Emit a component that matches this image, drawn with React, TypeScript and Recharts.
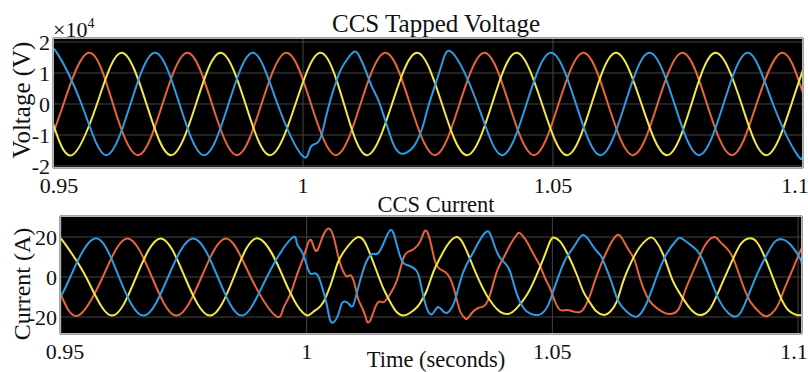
import React from 'react';
import { LineChart, Line, XAxis, YAxis, CartesianGrid } from 'recharts';

// ---------- data (time s, value) ----------
const voltageBlue: [number, number][] = [
  [0.95, 16000], [0.9508, 16500], [0.9557, 0], [0.9606, -16500], [0.9655, 0], [0.9704, 16500],
  [0.9753, 0], [0.9802, -16500], [0.9851, 0], [0.99, 16500], [0.9949, 0], [0.9998, -16600],
  [1.0014, -14300], [1.0027, -12700], [1.0037, -10000], [1.0047, -3500], [1.0057, 2500],
  [1.0067, 7500], [1.0077, 11500], [1.0091, 15000], [1.0104, 16900], [1.0114, 15000],
  [1.0126, 10500], [1.0138, 5500], [1.015, 1500], [1.0162, -4000], [1.0174, -10000],
  [1.0184, -14000], [1.0196, -16000], [1.0208, -15600], [1.022, -14000], [1.0232, -10500],
  [1.0242, -6000], [1.0252, 0], [1.0276, 12000], [1.0299, 16500], [1.0349, 0], [1.0398, -16500],
  [1.0447, 0], [1.0496, 16500], [1.0546, 0], [1.0595, -16500], [1.0644, 0], [1.0693, 16500],
  [1.0743, 0], [1.0792, -16500], [1.0841, 0], [1.089, 16500], [1.094, 0], [1.0989, -16500],
  [1.1, -15800],
];
const voltageRed: [number, number][] = [
  [0.95, -9500], [0.9521, 0], [0.9571, 16500], [0.962, 0], [0.967, -16500], [0.9719, 0],
  [0.9769, 16500], [0.9818, 0], [0.9868, -16500], [0.9917, 0], [0.9967, 16500], [1.0016, 0],
  [1.0066, -16500], [1.0115, 0], [1.0165, 16500], [1.0214, 0], [1.0264, -16500], [1.0313, 0],
  [1.0363, 16500], [1.0412, 0], [1.0462, -16500], [1.0511, 0], [1.0561, 16500], [1.061, 0],
  [1.066, -16500], [1.0709, 0], [1.0759, 16500], [1.0808, 0], [1.0858, -16500], [1.0907, 0],
  [1.0957, 16500], [1.1, 3500],
];
const voltageYellow: [number, number][] = [
  [0.95, -6300], [0.9538, -16500], [0.9588, 0], [0.9637, 16500], [0.9687, 0], [0.9736, -16500],
  [0.9786, 0], [0.9835, 16500], [0.9885, 0], [0.9934, -16500], [0.9985, 0], [1.0035, 16500],
  [1.0082, 0], [1.0128, -16500], [1.0178, 0], [1.0228, 16500], [1.0278, 0], [1.0328, -16500],
  [1.0378, 0], [1.0427, 16500], [1.0478, 0], [1.0528, -16500], [1.0577, 0], [1.0626, 16500],
  [1.0677, 0], [1.0728, -16500], [1.0777, 0], [1.0825, 16500], [1.0877, 0], [1.0928, -16500],
  [1.0977, 0], [1.1, 11000],
];

const currentBlue: [number, number][] = [
  [0.95, -9.5], [0.9519, 0], [0.9569, 19.3], [0.9618, 0], [0.9668, -19.3], [0.9718, 0],
  [0.9769, 19.3], [0.9819, 0], [0.9868, -19.3], [0.9919, 0], [0.9969, 19.3], [0.998, 16.8],
  [0.999, 12.7], [1.0, 6], [1.0007, 1.8], [1.0015, 1.8], [1.0024, 0.2], [1.0034, -7.3],
  [1.0041, -14], [1.0047, -21], [1.0054, -22.7], [1.0064, -19], [1.0071, -13.5], [1.0078, -12.3],
  [1.0086, -13.5], [1.0094, -14.5], [1.0102, -8], [1.0112, 1], [1.0122, 8], [1.0133, 11.5],
  [1.0143, 11.5], [1.0155, 16], [1.0171, 23.5], [1.0183, 16.5], [1.0194, 8], [1.0204, 6],
  [1.0214, 5], [1.0224, 3], [1.0231, -2.3], [1.0241, -13], [1.0251, -18.5], [1.0259, -17.5],
  [1.0267, -15], [1.0275, -16.5], [1.0285, -18], [1.0296, -15], [1.0305, -9], [1.0319, 2.7],
  [1.0336, 11], [1.0349, 17], [1.0366, 22.7], [1.0377, 19.3], [1.039, 11], [1.0404, 6.8],
  [1.0414, 2.7], [1.0424, -5.7], [1.0434, -12.3], [1.0448, -17.3], [1.0465, -19], [1.0477, -18.5],
  [1.0487, -16], [1.0495, -12], [1.0505, -4.8], [1.0516, 2.7], [1.0524, 7.5], [1.0532, 11],
  [1.0546, 16], [1.0562, 21], [1.0577, 17.5], [1.059, 13], [1.0599, 10.5], [1.0607, 6],
  [1.0621, -3], [1.0634, -12], [1.0651, -17.3], [1.0672, -19.8], [1.0692, -13], [1.0712, 0],
  [1.0733, 11.8], [1.0753, 18.5], [1.0763, 19.3], [1.078, 16.3], [1.0794, 13.3], [1.0807, 8],
  [1.0824, -2.5], [1.0841, -12.3], [1.0858, -18], [1.0872, -19.8], [1.0885, -17], [1.0902, -7.3],
  [1.0919, 2.7], [1.0936, 11], [1.0953, 17.7], [1.097, 18.7], [1.0987, 15.5], [1.1004, 9.3],
  [1.1008, 6],
];
const currentRed: [number, number][] = [
  [0.95, -9], [0.9535, -19.3], [0.9585, 0], [0.9635, 19.3], [0.9685, 0], [0.9735, -19.3],
  [0.9786, 0], [0.9836, 19.3], [0.9886, 0], [0.9936, -19.3], [0.9952, -16], [0.9966, -9],
  [0.998, 1], [0.9993, 9.5], [1.0003, 17], [1.001, 18], [1.0017, 13.5], [1.0024, 14.5],
  [1.0033, 20.5], [1.0045, 24.3], [1.0056, 19], [1.0066, 8.5], [1.0075, 2.5], [1.0082, 0.3],
  [1.009, 0.8], [1.0098, -4], [1.0105, -11], [1.0113, -15.5], [1.012, -20], [1.0124, -22.7],
  [1.013, -21.5], [1.0136, -17.5], [1.0146, -12.5], [1.0157, -12.5], [1.017, -8.5], [1.0184, -1.5],
  [1.0197, 9.5], [1.0207, 12.7], [1.0218, 14], [1.0231, 17.7], [1.0241, 23.2], [1.0251, 18.5],
  [1.0261, 8], [1.0271, 4], [1.0282, 2.5], [1.0292, -0.7], [1.0302, -8], [1.0312, -17],
  [1.032, -20], [1.0326, -21], [1.0336, -18], [1.0349, -15.5], [1.0361, -14.5], [1.0373, -9],
  [1.0387, 2.7], [1.04, 9.3], [1.0414, 16], [1.0427, 21], [1.0435, 21.8], [1.0448, 17.7],
  [1.0455, 14.5], [1.0465, 10], [1.0475, 5.5], [1.0485, -0.5], [1.0495, -5.5], [1.0505, -12],
  [1.0516, -16.5], [1.0529, -16.5], [1.0543, -17.3], [1.0556, -17.5], [1.0566, -15], [1.0577, -9],
  [1.0585, -3], [1.0597, 5], [1.0613, 14], [1.0632, 21], [1.0646, 17.5], [1.0658, 12.5],
  [1.0668, 8], [1.0678, -0.5], [1.0692, -9.5], [1.0705, -14], [1.0723, -17.3], [1.0739, -18.5],
  [1.0754, -17], [1.0763, -12.3], [1.0773, -5], [1.0794, 7], [1.0811, 16], [1.0829, 20],
  [1.0841, 17.7], [1.0855, 14.3], [1.0868, 9.3], [1.0884, -1.5], [1.0902, -12], [1.0923, -18],
  [1.0938, -19.5], [1.0957, -15], [1.097, -7.3], [1.0987, 2.7], [1.1004, 12.7], [1.1008, 14.3],
];
const currentYellow: [number, number][] = [
  [0.95, 19.3], [0.9551, 0], [0.9603, -19.3], [0.9653, 0], [0.9703, 19.3], [0.9752, 0],
  [0.9803, -19.3], [0.9852, 0], [0.9902, 19.3], [0.9952, 0], [0.9966, -7.5], [0.998, -14],
  [0.9993, -18], [1.0003, -19.2], [1.0013, -17.5], [1.0024, -15.5], [1.0034, -12.5], [1.0044, -7],
  [1.0054, 0], [1.0064, 7.5], [1.0078, 13.5], [1.0092, 17.7], [1.0105, 20], [1.0117, 18],
  [1.0129, 11.5], [1.0143, 2.5], [1.0156, -5.7], [1.017, -12.5], [1.0183, -17.5], [1.0197, -19.2],
  [1.021, -18], [1.0223, -15.5], [1.0231, -13], [1.0244, -7], [1.0258, 2.7], [1.0271, 9.3],
  [1.0285, 15.5], [1.0302, 19.8], [1.0316, 17.7], [1.0332, 9.3], [1.0349, -0.7], [1.0366, -9],
  [1.038, -14], [1.0393, -17.3], [1.041, -18.5], [1.0427, -15.7], [1.0448, -9], [1.0465, -0.7],
  [1.0482, 9.3], [1.0495, 17.7], [1.0503, 19.8], [1.0516, 17.7], [1.0532, 11], [1.055, 1],
  [1.0563, -7.3], [1.0577, -13], [1.059, -17.3], [1.0605, -19], [1.0617, -17.5], [1.0631, -12.3],
  [1.0644, -2.3], [1.0661, 7.7], [1.0678, 15], [1.0697, 19.5], [1.0709, 18.5], [1.0726, 11],
  [1.0743, -0.7], [1.076, -8.5], [1.078, -15.7], [1.08, -19], [1.0821, -15.8], [1.0841, -5.7],
  [1.0862, 6], [1.0882, 16], [1.0899, 19.3], [1.0916, 17.5], [1.0936, 7.7], [1.0957, -5.7],
  [1.0977, -15.7], [1.0998, -19], [1.1008, -18.8],
];

const timeTicks = [0.95, 1, 1.05, 1.1];
const voltageTicks = [-20000, -10000, 0, 10000, 20000];
const currentTicks = [-20, 0, 20];

const titles = { top: 'CCS Tapped Voltage', bottom: 'CCS Current' };
const axisLabels = { voltage: 'Voltage (V)', current: 'Current (A)', time: 'Time (seconds)' };

const BLUE = '#2f9be3';
const RED = '#e8653c';
const YELLOW = '#f3e84a';
const FONT = '"Liberation Serif", "Times New Roman", serif';
const TICK_FS = 22;

const toObj = (arr: [number, number][]) => arr.map(([t, v]) => ({ t, v }));

const makeXTick = (firstShift: number, lastShift: number) => (props: any) => {
  const { x, y, payload, index } = props;
  const n = timeTicks.length;
  const shift = index === 0 ? firstShift : index === n - 1 ? lastShift : 0;
  return (
    <text x={x + shift} y={y} dy={17} textAnchor="middle" fontFamily={FONT} fontSize={TICK_FS} fill="#111">
      {String(payload.value)}
    </text>
  );
};

const makeYTick = (fmt: (v: number) => string) => (props: any) => {
  const { x, y, payload } = props;
  return (
    <text x={x} y={y} dy={8} textAnchor="end" fontFamily={FONT} fontSize={TICK_FS} fill="#111">
      {fmt(payload.value)}
    </text>
  );
};

export default function App() {
  return (
    <div style={{ position: 'absolute', left: 0, top: 0, width: 808, height: 372, background: '#fff', overflow: 'hidden', fontFamily: FONT }}>
      <div style={{ position: 'absolute', left: 0, top: 0 }}>
        <LineChart width={808} height={200} margin={{ top: 38, right: 5, bottom: 0, left: 0 }}>
          <CartesianGrid fill="#000" stroke="#444" strokeWidth={1} />
          <XAxis type="number" dataKey="t" domain={[0.95, 1.1]} ticks={timeTicks} height={32}
            tickLine={false} axisLine={false} tickSize={0} tickMargin={8} tick={makeXTick(6, -8)}
            allowDataOverflow interval={0} />
          <YAxis type="number" domain={[-20650, 21290]} ticks={voltageTicks} width={53}
            tickLine={false} axisLine={false} tickSize={0} tickMargin={3}
            tick={makeYTick((v) => String(v / 10000))} allowDataOverflow interval={0} />
          <Line data={toObj(voltageRed)} dataKey="v" type="natural" stroke={RED} strokeWidth={2} dot={false} isAnimationActive={false} />
          <Line data={toObj(voltageYellow)} dataKey="v" type="natural" stroke={YELLOW} strokeWidth={2} dot={false} isAnimationActive={false} />
          <Line data={toObj(voltageBlue)} dataKey="v" type="natural" stroke={BLUE} strokeWidth={2} dot={false} isAnimationActive={false} />
        </LineChart>
      </div>
      <div style={{ position: 'absolute', left: 0, top: 200 }}>
        <LineChart width={808} height={172} margin={{ top: 16, right: 6, bottom: 0, left: 0 }}>
          <CartesianGrid fill="#000" stroke="#444" strokeWidth={1} />
          <XAxis type="number" dataKey="t" domain={[0.9498, 1.1008]} ticks={timeTicks} height={38}
            tickLine={false} axisLine={false} tickSize={0} tickMargin={8} tick={makeXTick(4, -4)}
            allowDataOverflow interval={0} />
          <YAxis type="number" domain={[-28.5, 30.5]} ticks={currentTicks} width={60}
            tickLine={false} axisLine={false} tickSize={0} tickMargin={3}
            tick={makeYTick((v) => String(v))} allowDataOverflow interval={0} />
          <Line data={toObj(currentRed)} dataKey="v" type="natural" stroke={RED} strokeWidth={2} dot={false} isAnimationActive={false} />
          <Line data={toObj(currentYellow)} dataKey="v" type="natural" stroke={YELLOW} strokeWidth={2} dot={false} isAnimationActive={false} />
          <Line data={toObj(currentBlue)} dataKey="v" type="natural" stroke={BLUE} strokeWidth={2} dot={false} isAnimationActive={false} />
        </LineChart>
      </div>
      <svg width={808} height={372} style={{ position: 'absolute', left: 0, top: 0, pointerEvents: 'none' }}>
        <rect x={53.5} y={38.5} width={749} height={129} fill="none" stroke="#b5b5b5" strokeWidth={1} />
        <rect x={60.5} y={216.5} width={741} height={117} fill="none" stroke="#b5b5b5" strokeWidth={1} />
        <g fontFamily={FONT} fill="#111">
          <text x={436} y={32} fontSize={25} textAnchor="middle">{titles.top}</text>
          <text x={436} y={212} fontSize={22.5} textAnchor="middle">{titles.bottom}</text>
          <text x={436} y={367} fontSize={22.5} textAnchor="middle">{axisLabels.time}</text>
          <text x={53} y={37} fontSize={22}>×10<tspan fontSize={14} dy={-9}>4</tspan></text>
          <text transform="translate(30,100) rotate(-90)" fontSize={25} textAnchor="middle">{axisLabels.voltage}</text>
          <text transform="translate(30,284) rotate(-90)" fontSize={24} textAnchor="middle">{axisLabels.current}</text>
        </g>
      </svg>
    </div>
  );
}
